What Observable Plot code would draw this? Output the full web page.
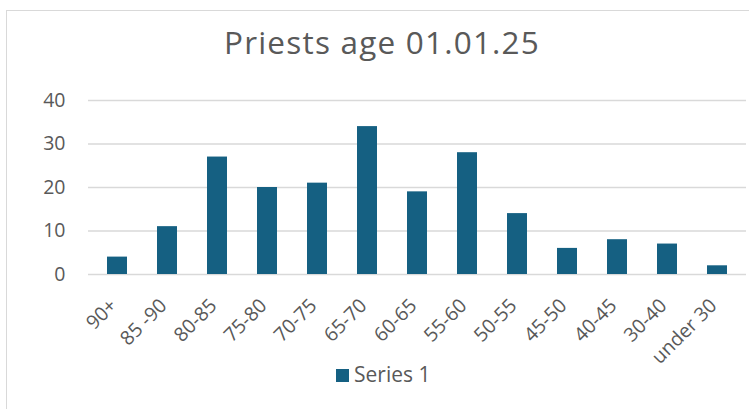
<!DOCTYPE html>
<html>
<head>
<meta charset="utf-8">
<script src="https://cdn.jsdelivr.net/npm/d3@7"></script>
<script src="https://cdn.jsdelivr.net/npm/@observablehq/plot@0.6"></script>
<style>
  html, body { margin: 0; padding: 0; background: #fff; }
  body { width: 749px; height: 409px; overflow: hidden; position: relative; font-family: "Open Sans", Roboto, sans-serif; }
  #frame { position: absolute; left: 6px; top: 10px; width: 800px; height: 450px; border: 1px solid #d9d9d9; box-sizing: border-box; }
  #title { position: absolute; left: 0; width: 764px; top: 23px; text-align: center; font-size: 31.5px; letter-spacing: 1.2px; color: #595959; line-height: 1.2; }
  #chart { position: absolute; left: 0; top: 85px; }
  #legend { position: absolute; left: 336px; top: 362px; font-size: 21px; color: #595959; display: flex; align-items: center; line-height: 1.2; }
  #legend .sw { width: 13px; height: 13px; background: #156082; margin-right: 5px; margin-top: 2px; }
  #chart g[aria-label="y-axis tick label"] { font-size: 19.5px; }
  #chart g[aria-label="x-axis tick label"] { font-size: 19.5px; }
</style>
</head>
<body>
<div id="frame"></div>
<div id="title">Priests age 01.01.25</div>
<div id="chart"></div>
<div id="legend"><span class="sw"></span><span id="legendLabel"></span></div>
<script>
const categories = ["90+", "85 -90", "80-85", "75-80", "70-75", "65-70", "60-65", "55-60", "50-55", "45-50", "40-45", "30-40", "under 30"];
const values = [4, 11, 27, 20, 21, 34, 19, 28, 14, 6, 8, 7, 2];
const yTicks = [0, 10, 20, 30, 40];
const seriesName = "Series 1";

document.getElementById("legendLabel").textContent = seriesName;

const data = categories.map((c, i) => ({category: c, value: values[i]}));

const chart = Plot.plot({
  width: 749,
  height: 280,
  marginLeft: 88,
  marginRight: 3,
  marginTop: 15,
  marginBottom: 91,
  style: { fontFamily: "'Open Sans', Roboto, sans-serif", color: "#595959", background: "transparent", overflow: "visible" },
  x: { domain: categories, paddingInner: 0.6, paddingOuter: 0.3, label: null },
  y: { domain: [0, 40], ticks: yTicks, label: null },
  marks: [
    Plot.gridY(yTicks, { stroke: "#d9d9d9", strokeOpacity: 1, strokeWidth: 1.5 }),
    Plot.barY(data, { x: "category", y: "value", fill: "#156082" }),
    Plot.axisY(yTicks, { tickSize: 0, tickPadding: 23, fontSize: 19.5, fill: "#595959", label: null }),
    Plot.axisX({ tickSize: 0, tickRotate: -45, tickPadding: 28, dx: -4, fontSize: 19.5, fill: "#595959", label: null })
  ]
});
document.getElementById("chart").appendChild(chart);
</script>
</body>
</html>
